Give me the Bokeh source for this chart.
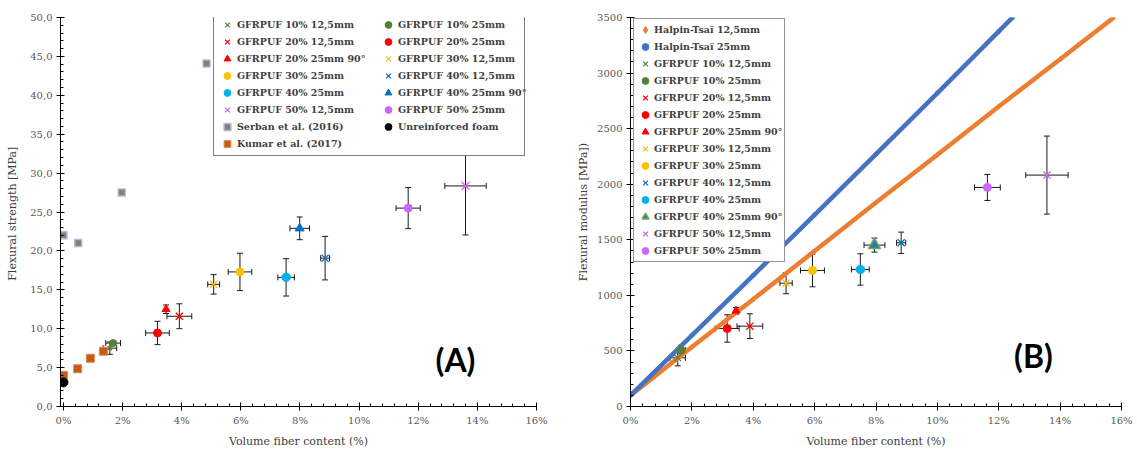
from bokeh.plotting import figure
from bokeh.models import (Range1d, FixedTicker, Whisker, TeeHead, ColumnDataSource,
                          Legend, LegendItem, Label)
from bokeh.layouts import row
from bokeh.embed import file_html
from bokeh.resources import INLINE

# ------------------------------------------------------------------ data
series_names = ["GFRPUF 10% 12,5mm", "GFRPUF 10% 25mm", "GFRPUF 20% 12,5mm",
                "GFRPUF 20% 25mm", "GFRPUF 20% 25mm 90°", "GFRPUF 30% 12,5mm",
                "GFRPUF 30% 25mm", "GFRPUF 40% 12,5mm", "GFRPUF 40% 25mm",
                "GFRPUF 40% 25mm 90°", "GFRPUF 50% 12,5mm", "GFRPUF 50% 25mm"]

# Panel A : flexural strength
vf_A = [1.57, 1.68, 3.92, 3.18, 3.47, 5.08, 5.97, 8.85, 7.53, 7.99, 13.60, 11.66]
strength = [7.5, 8.15, 11.6, 9.45, 12.5, 15.7, 17.3, 19.07, 16.6, 22.9, 28.35, 25.5]
vf_err_A = [0.23, 0.25, 0.42, 0.40, 0.0, 0.20, 0.40, 0.15, 0.28, 0.33, 0.70, 0.41]
strength_err = [0.8, 0.3, 1.6, 1.5, 0.55, 1.25, 2.4, 2.8, 2.4, 1.46, 6.3, 2.64]
serban_vf = [0.0, 0.5, 1.97, 4.84]
serban_strength = [22.0, 21.0, 27.5, 44.1]
kumar_vf = [0.0, 0.48, 0.91, 1.35]
kumar_strength = [4.0, 4.85, 6.2, 7.1]
foam_vf = [0.0]
foam_strength = [3.1]

# Panel B : flexural modulus
vf_B = [1.54, 1.65, 3.89, 3.15, 3.44, 5.07, 5.93, 8.82, 7.49, 7.95, 13.57, 11.63]
modulus = [438, 507, 723, 702, 861, 1110, 1224, 1473, 1233, 1452, 2082, 1971]
vf_err_B = [0.25, 0.15, 0.42, 0.39, 0.0, 0.20, 0.39, 0.15, 0.29, 0.34, 0.69, 0.42]
modulus_err = [72, 45, 111, 123, 30, 95, 147, 96, 141, 63, 351, 117]
ht125_vf = [0, 2, 4, 6, 8, 10, 12, 14, 15.75]
ht125_mod = [100, 535, 965, 1400, 1835, 2265, 2700, 3125, 3500]
ht25_vf = [0, 2, 4, 6, 8, 10, 12, 12.45]
ht25_mod = [100, 640, 1180, 1725, 2270, 2820, 3375, 3500]

x_ticks = [0, 2, 4, 6, 8, 10, 12, 14, 16]
yA_ticks = [0, 5, 10, 15, 20, 25, 30, 35, 40, 45, 50]
yB_ticks = [0, 500, 1000, 1500, 2000, 2500, 3000, 3500]

# ------------------------------------------------------------------ styles
GREEN, RED, GOLD, BLUE, CYAN, VIOLET = "#548235", "#FF0000", "#FFC000", "#0070C0", "#00B0F0", "#CC66FF"
style_A = [("x", 6, GREEN, GREEN), ("circle", 7, GREEN, GREEN), ("x", 10, RED, RED),
           ("circle", 8, RED, RED), ("triangle", 8, RED, RED), ("x", 10, GOLD, GOLD),
           ("circle", 8, GOLD, GOLD), ("x", 10, BLUE, BLUE), ("circle", 8.5, CYAN, CYAN),
           ("triangle", 9, BLUE, BLUE), ("x", 11, VIOLET, VIOLET), ("circle", 8, VIOLET, VIOLET)]
style_B = [("x", 9, GREEN, GREEN), ("circle", 8, GREEN, GREEN), ("x", 10, RED, RED),
           ("circle", 8, RED, RED), ("triangle", 8, RED, RED), ("x", 10, GOLD, GOLD),
           ("circle", 8, GOLD, GOLD), ("x", 10, BLUE, BLUE), ("circle", 8.5, CYAN, CYAN),
           ("triangle", 12, "#2E75B6", "#70AD47"), ("x", 10, VIOLET, VIOLET), ("circle", 8, VIOLET, VIOLET)]

SERIF = "DejaVu Serif"


def style_axes(p):
    for ax in p.axis:
        ax.axis_line_color = "black"
        ax.major_tick_line_color = "black"
        ax.minor_tick_line_color = "black"
        ax.major_tick_in = 4
        ax.major_tick_out = 4
        ax.minor_tick_in = 3
        ax.minor_tick_out = 0
        ax.major_label_standoff = 4
        ax.major_label_text_font = SERIF
        ax.major_label_text_font_size = "10px"
        ax.major_label_text_color = "#595959"
        ax.axis_label_text_font = SERIF
        ax.axis_label_text_font_size = "11px"
        ax.axis_label_text_font_style = "normal"
        ax.axis_label_text_color = "#404040"
    p.xgrid.visible = False
    p.ygrid.visible = False
    p.outline_line_color = None
    p.background_fill_color = "white"


def make_whisker(src, dim, level="underlay"):
    return Whisker(source=src, base="b", lower="lo", upper="up", dimension=dim,
                   line_color="#1a1a1a", line_width=1, level=level,
                   upper_head=TeeHead(size=6, line_color="#1a1a1a", line_width=1),
                   lower_head=TeeHead(size=6, line_color="#1a1a1a", line_width=1))


def add_errorbars(p, xs, ys, xe, ye):
    ix = [i for i in range(len(xs)) if xe[i] > 0]
    iy = [i for i in range(len(xs)) if ye[i] > 0]
    srcx = ColumnDataSource(dict(b=[ys[i] for i in ix], lo=[xs[i] - xe[i] for i in ix], up=[xs[i] + xe[i] for i in ix]))
    srcy = ColumnDataSource(dict(b=[xs[i] for i in iy], lo=[ys[i] - ye[i] for i in iy], up=[ys[i] + ye[i] for i in iy]))
    p.add_layout(make_whisker(srcx, "width"))
    p.add_layout(make_whisker(srcy, "height"))


def add_series(p, xs, ys, styles):
    rends = []
    for i, (mk, sz, fc, lc) in enumerate(styles):
        lw = 1.3 if mk == "x" else (1.5 if fc != lc else 1)
        r = p.scatter([xs[i]], [ys[i]], marker=mk, size=sz, fill_color=fc, line_color=lc, line_width=lw)
        rends.append(r)
    return rends


LEG_FONT = dict(label_text_font=SERIF, label_text_font_size="9.5px", label_text_font_style="bold",
                label_text_color="#404040")
BORDERS = dict(min_border_top=17, min_border_bottom=46)

# ------------------------------------------------------------------ panel A
pA = figure(width=560, height=452, x_range=Range1d(-0.1, 16), y_range=Range1d(0, 50),
            output_backend="svg", toolbar_location=None,
            min_border_left=60, min_border_right=24, **BORDERS,
            x_axis_label="Volume fiber content (%)", y_axis_label="Flexural strength  [MPa]")
style_axes(pA)
pA.xaxis.ticker = FixedTicker(ticks=x_ticks, minor_ticks=[i * 0.4 for i in range(41)])
pA.xaxis.major_label_overrides = {t: f"{t}%" for t in x_ticks}
pA.yaxis.ticker = FixedTicker(ticks=yA_ticks, minor_ticks=list(range(51)))
pA.yaxis.major_label_overrides = {t: f"{t},0" for t in yA_ticks}
pA.yaxis.axis_label_standoff = 8
pA.xaxis.axis_label_standoff = 6

add_errorbars(pA, vf_A, strength, vf_err_A, strength_err)
rA = add_series(pA, vf_A, strength, style_A)
r_serban = pA.scatter(serban_vf, serban_strength, marker="square", size=7, fill_color="#7F7F7F",
                      line_color="#B4B8D0", line_width=1.5)
r_kumar = pA.scatter(kumar_vf, kumar_strength, marker="square", size=8, fill_color="#C55A11",
                     line_color="#D98A55", line_width=1)
r_foam = pA.scatter(foam_vf, foam_strength, marker="circle", size=9, fill_color="black", line_color="black")

# two legend columns: the first draws the frame, the second sits over its right half
colA1 = [0, 2, 4, 6, 8, 10]
colA2 = [1, 3, 5, 7, 9, 11]
itemsA1 = [LegendItem(label=series_names[i], renderers=[rA[i]]) for i in colA1]
itemsA1 += [LegendItem(label="Serban et al. (2016)", renderers=[r_serban]),
            LegendItem(label="Kumar et al. (2017)", renderers=[r_kumar])]
itemsA2 = [LegendItem(label=series_names[i], renderers=[rA[i]]) for i in colA2]
itemsA2 += [LegendItem(label="Unreinforced foam", renderers=[r_foam])]

legA1 = Legend(items=itemsA1, location=(153, 250), orientation="vertical",
               border_line_color="black", border_line_width=1, background_fill_color="white",
               background_fill_alpha=1, padding=3, spacing=0, margin=0,
               glyph_width=20, glyph_height=17, label_height=17, label_standoff=0, label_width=284,
               **LEG_FONT)
legA2 = Legend(items=itemsA2, location=(318, 271), orientation="vertical",
               border_line_color=None, background_fill_alpha=0, padding=3, spacing=0, margin=0,
               glyph_width=20, glyph_height=17, label_height=17, label_standoff=0, label_width=125,
               **LEG_FONT)
pA.add_layout(legA1)
pA.add_layout(legA2)
pA.add_layout(Label(x=13.26, y=6.0, text="(A)", text_font="Lato", text_font_size="32px",
                    text_font_style="bold", text_align="center", text_baseline="middle", text_color="black"))

# ------------------------------------------------------------------ panel B
pB = figure(width=577, height=452, x_range=Range1d(0, 16), y_range=Range1d(0, 3500),
            output_backend="svg", toolbar_location=None,
            min_border_left=70, min_border_right=16, **BORDERS,
            x_axis_label="Volume fiber content (%)", y_axis_label="Flexural modulus [MPa])")
style_axes(pB)
pB.xaxis.ticker = FixedTicker(ticks=x_ticks, minor_ticks=[i * 0.4 for i in range(41)])
pB.xaxis.major_label_overrides = {t: f"{t}%" for t in x_ticks}
pB.yaxis.ticker = FixedTicker(ticks=yB_ticks, minor_ticks=list(range(0, 3501, 100)))
pB.yaxis.axis_label_standoff = 4
pB.xaxis.axis_label_standoff = 6

pB.line(ht125_vf, ht125_mod, line_color="#ED7D31", line_width=4.5)
pB.line(ht25_vf, ht25_mod, line_color="#4472C4", line_width=4.5)
r_ht125 = pB.scatter(ht125_vf, ht125_mod, marker="diamond", size=5, fill_color="#ED7D31", line_color="#ED7D31")
r_ht25 = pB.scatter(ht25_vf, ht25_mod, marker="circle", size=4, fill_color="#4472C4", line_color="#4472C4")

add_errorbars(pB, vf_B, modulus, vf_err_B, modulus_err)
rB = add_series(pB, vf_B, modulus, style_B)

itemsB = [LegendItem(label="Halpin-Tsaï 12,5mm", renderers=[r_ht125]),
          LegendItem(label="Halpin-Tsaï 25mm", renderers=[r_ht25])]
itemsB += [LegendItem(label=series_names[i], renderers=[rB[i]]) for i in range(12)]
legB = Legend(items=itemsB, location=(3, 144), orientation="vertical",
              border_line_color="#262626", border_line_width=1, background_fill_color="white",
              background_fill_alpha=1, padding=2, spacing=0, margin=0,
              glyph_width=18, glyph_height=17, label_height=17, label_standoff=0,
              **LEG_FONT)
pB.add_layout(legB)
pB.add_layout(Label(x=13.13, y=460, text="(B)", text_font="Lato", text_font_size="32px",
                    text_font_style="bold", text_align="center", text_baseline="middle", text_color="black"))

layout = row(pA, pB)
open("out.html", "w").write(file_html(layout, INLINE, "Flexural properties"))
